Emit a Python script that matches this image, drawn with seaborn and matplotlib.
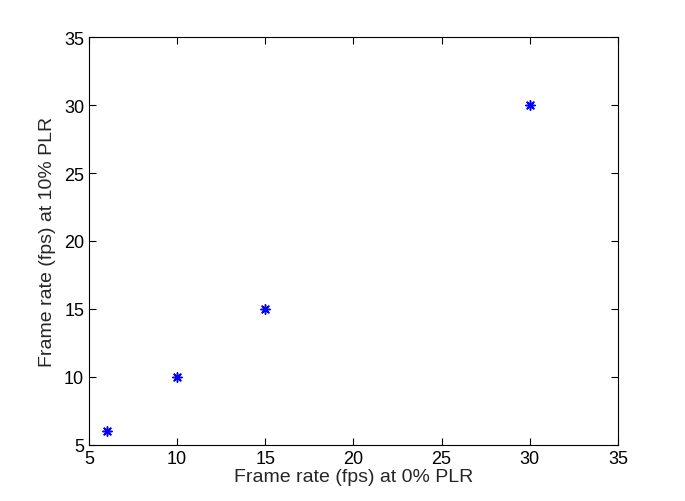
import numpy as np
import pandas as pd
import matplotlib
matplotlib.use("Agg")
import matplotlib.pyplot as plt
import seaborn as sns

# values
fps_0_plr = [6, 10, 15, 30]
fps_10_plr = [6, 10, 15, 30]
ticks = [5, 10, 15, 20, 25, 30, 35]

df = pd.DataFrame({"fps_0": fps_0_plr, "fps_10": fps_10_plr})

sns.set_style("ticks")
plt.rcParams["font.family"] = ["Liberation Sans", "DejaVu Sans"]

fig = plt.figure(figsize=(6.85, 5.02), dpi=100)
ax = fig.add_axes([0.130, 0.112, 0.772, 0.812])

# MATLAB style asterisk: 8 arms
sns.scatterplot(data=df, x="fps_0", y="fps_10", marker=(8, 2, 0), color="blue",
                s=45, linewidth=1.1, edgecolor="blue", ax=ax)

ax.set_xlim(5, 35)
ax.set_ylim(5, 35)
ax.set_xticks(ticks)
ax.set_yticks(ticks)
ax.tick_params(direction="in", top=True, right=True, length=5, labelsize=13, colors="black")
for sp in ax.spines.values():
    sp.set_visible(True)
    sp.set_linewidth(0.8)
    sp.set_color("black")
ax.set_xlabel("Frame rate (fps) at 0% PLR", fontsize=14, labelpad=1)
ax.set_ylabel("Frame rate (fps) at 10% PLR", fontsize=14, labelpad=6)

fig.savefig("out.png", dpi=100)
